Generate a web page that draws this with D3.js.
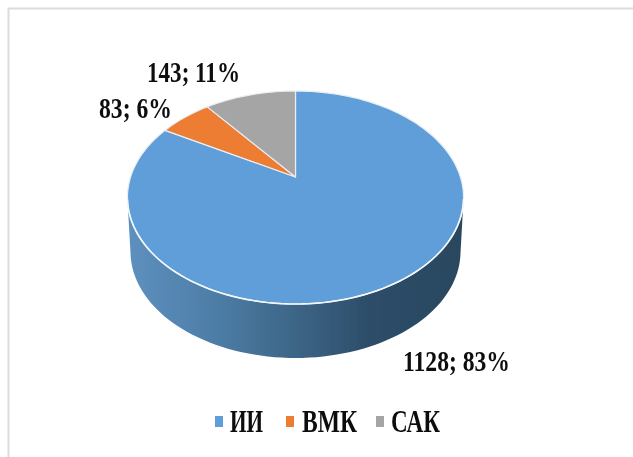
<!DOCTYPE html>
<html><head><meta charset="utf-8">
<script src="https://cdn.jsdelivr.net/npm/d3@7"></script>
<style>html,body{margin:0;padding:0;background:#fff;overflow:hidden}svg{display:block}
text{font-family:"Liberation Serif",serif;font-weight:700;fill:#111}</style></head>
<body><script>
const categories = ["ИИ","ВМК","САК"];
const values = [1128,83,143];
const percents = [83,6,11];
const colors = ["#5f9ed8","#ed7d31","#a5a5a5"];
const W=633,H=457;
const svg=d3.select("body").append("svg").attr("width",W).attr("height",H);
const defs=svg.append("defs");
const grad=defs.append("linearGradient").attr("id","wall");
[[0,"#5e90bf"],[0.25,"#4e7ea8"],[0.5,"#3d6586"],[0.72,"#2d4d69"],[1,"#2b475f"]].forEach(s=>grad.append("stop").attr("offset",s[0]).attr("stop-color",s[1]));
const soft=defs.append("filter").attr("id","soft");
soft.append("feGaussianBlur").attr("stdDeviation",0.5);
defs.append("filter").attr("id","softer").append("feGaussianBlur").attr("stdDeviation",0.35);

// frame
svg.append("path").attr("d",`M8.5 ${H}V8.5H${W}`).attr("fill","none").attr("stroke","#dcdcdc").attr("stroke-width",2);

// perspective projection of the pie disc
const cx=295.5,cy=177,b=164.9,a=102.55,k=0.1925,depth=54;
const project=t=>{const u=Math.sin(t),v=Math.cos(t),d=1+k*v;return [cx+b*u/d,cy-a*v/d];};
const line=d3.line();
const arcs=d3.pie().sort(null).value(d=>d)(values);

const pg=svg.append("g").attr("filter","url(#softer)");
// side wall
const toBottom=p=>[cx+(p[0]-cx)*0.982,p[1]+depth];
const discPts=d3.range(0,360,2).map(d=>project(d*Math.PI/180));
const extL=d3.least(discPts,p=>p[0]),extR=d3.greatest(discPts,p=>p[0]);
const frontPts=discPts.filter(p=>p[1]>=extR[1]).sort((p,q)=>q[0]-p[0]);
pg.append("path").attr("d",line([extR,...frontPts.map(toBottom),extL])+"Z").attr("fill","url(#wall)");

// top slices
arcs.forEach((d,i)=>{
  const n=Math.max(4,Math.ceil((d.endAngle-d.startAngle)/0.03));
  const pts=d3.range(n+1).map(j=>project(d.startAngle+(d.endAngle-d.startAngle)*j/n));
  pg.append("path").attr("d",line([[cx,cy],...pts])+"Z").attr("fill",colors[i])
    .attr("stroke","#e8eef4").attr("stroke-width",1.2).attr("stroke-linejoin","round");
});
// bright rim along the front edge
pg.append("path").attr("d",line(frontPts)).attr("fill","none").attr("stroke","#f4f7fa").attr("stroke-width",1.6);

// text
const tg=svg.append("g").attr("filter","url(#soft)");
const label=(s,x1,x2,y,fs)=>tg.append("text").attr("x",x1).attr("y",y).attr("font-size",fs)
  .attr("textLength",x2-x1).attr("lengthAdjust","spacingAndGlyphs").text(s);
const lab=i=>`${values[i]}; ${percents[i]}%`;
label(lab(2),147,240,81.5,30);
label(lab(1),99,172,118,30);
label(lab(0),403,510,371,30);

// legend
const legendSwatch=[215,286,376], legendText=[[230,263],[302,357],[391,440]];
categories.forEach((c,i)=>{
  tg.append("rect").attr("x",legendSwatch[i]).attr("y",416).attr("width",8).attr("height",11).attr("fill",colors[i]);
  label(c,legendText[i][0],legendText[i][1],432,31);
});
</script></body></html>
